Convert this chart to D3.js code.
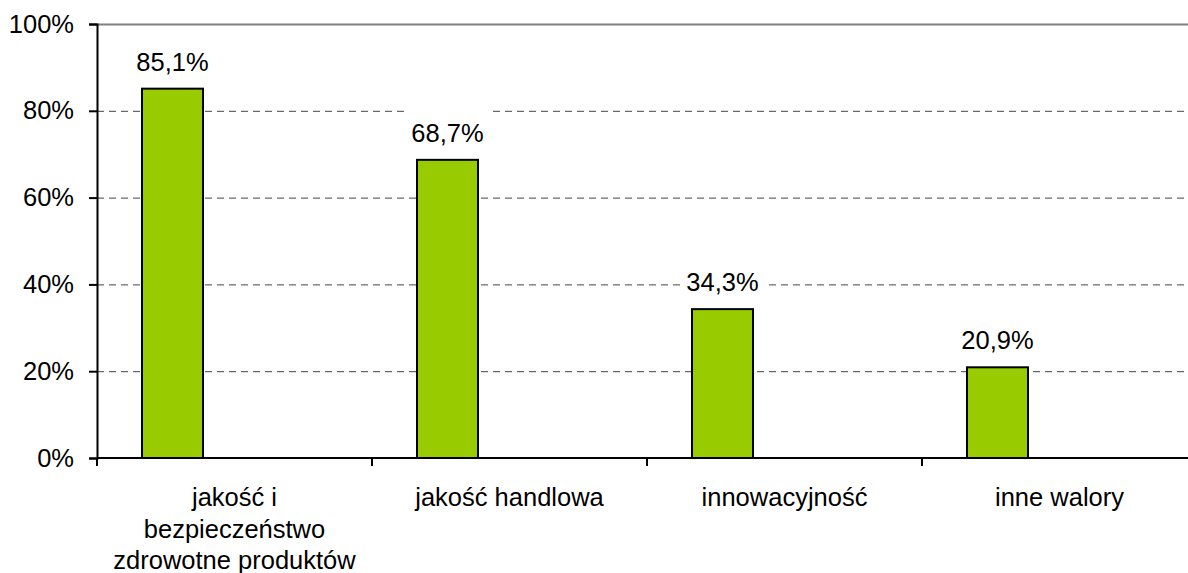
<!DOCTYPE html>
<html>
<head>
<meta charset="utf-8">
<script src="https://cdn.jsdelivr.net/npm/d3@7"></script>
<style>
  body { margin: 0; background: #fff; }
  svg { display: block; font-family: "Liberation Sans", Arial, sans-serif; }
</style>
</head>
<body>
<svg id="chart"></svg>
<script>
// Chart data.
const categories = [
    ['jakość i', 'bezpieczeństwo', 'zdrowotne produktów'],
    ['jakość handlowa'],
    ['innowacyjność'],
    ['inne walory'],
];
const values = [85.1, 68.7, 34.3, 20.9];
const valueLabels = ['85,1%', '68,7%', '34,3%', '20,9%'];
const yTicks = [0, 20, 40, 60, 80, 100];

const width = 1188;
const height = 573;
const marginLeft = 97;
const marginTop = 24;
const plotBottom = 458;
const bandW = 275;
const fontSize = 25.5;

const svg = d3.select('#chart').attr('width', width).attr('height', height);

// Scales.
const x = d3
    .scaleBand()
    .domain(d3.range(categories.length))
    .range([marginLeft, marginLeft + bandW * categories.length])
    .padding(0);

const y = d3.scaleLinear().domain([0, 100]).range([plotBottom, marginTop]);

// Gridlines.
svg.append('g')
    .selectAll('line')
    .data(yTicks.filter(t => t > 0))
    .enter()
    .append('line')
    .attr('x1', marginLeft)
    .attr('x2', width)
    .attr('y1', d => y(d) + 0.5)
    .attr('y2', d => y(d) + 0.5)
    .attr('stroke', d => (d === 100 ? '#808080' : '#444'))
    .attr('stroke-width', d => (d === 100 ? 2 : 1))
    .attr('stroke-dasharray', d => (d === 100 ? null : '7,5'));

// Bars.
const barOffset = 45;
const barW = 61;
svg.append('g')
    .selectAll('rect')
    .data(values)
    .enter()
    .append('rect')
    .attr('x', (d, i) => x(i) + barOffset)
    .attr('y', d => y(d))
    .attr('width', barW)
    .attr('height', d => plotBottom - y(d))
    .attr('fill', '#99cc00')
    .attr('stroke', '#000')
    .attr('stroke-width', 2);

// Value labels with white background that hides the gridlines.
const labels = svg.append('g')
    .selectAll('g')
    .data(values)
    .enter()
    .append('g')
    .attr('transform', (d, i) => `translate(${x(i) + barOffset + barW / 2}, ${y(d) - 18})`);

labels.append('text')
    .attr('text-anchor', 'middle')
    .attr('font-size', fontSize)
    .attr('fill', '#000')
    .text((d, i) => valueLabels[i])
    .each(function () {
        const bb = this.getBBox();
        d3.select(this.parentNode)
            .insert('rect', 'text')
            .attr('x', bb.x - 4)
            .attr('y', bb.y - 12)
            .attr('width', bb.width + 10)
            .attr('height', bb.height + 14)
            .attr('fill', '#fff');
    });

// Y axis.
const yAxis = svg.append('g')
    .attr('transform', `translate(${marginLeft}, 0)`)
    .call(d3.axisLeft(y).tickValues(yTicks).tickFormat(d => d + '%').tickSize(8).tickPadding(15));
yAxis.select('.domain').attr('stroke', '#000').attr('stroke-width', 2);
yAxis.selectAll('.tick line').attr('stroke', '#000').attr('stroke-width', 2);
yAxis.selectAll('.tick text')
    .attr('font-size', fontSize)
    .attr('font-family', '"Liberation Sans", Arial, sans-serif')
    .attr('fill', '#000');

// X axis.
const xAxis = svg.append('g')
    .attr('transform', `translate(0, ${plotBottom})`);
xAxis.append('line')
    .attr('x1', marginLeft)
    .attr('x2', width)
    .attr('stroke', '#000')
    .attr('stroke-width', 2);
xAxis.selectAll('.xtick')
    .data(d3.range(categories.length + 1))
    .enter()
    .append('line')
    .attr('class', 'xtick')
    .attr('x1', i => marginLeft + bandW * i)
    .attr('x2', i => marginLeft + bandW * i)
    .attr('y1', 0)
    .attr('y2', 8)
    .attr('stroke', '#000')
    .attr('stroke-width', 2);

// Category labels.
const catText = xAxis.selectAll('.cat')
    .data(categories)
    .enter()
    .append('text')
    .attr('class', 'cat')
    .attr('text-anchor', 'middle')
    .attr('font-size', fontSize)
    .attr('fill', '#000')
    .attr('transform', (d, i) => `translate(${x(i) + x.bandwidth() / 2}, 0)`);

catText.selectAll('tspan')
    .data(d => d)
    .enter()
    .append('tspan')
    .attr('x', 0)
    .attr('y', (d, j) => 48 + j * 31.5)
    .text(d => d);
</script>
</body>
</html>
